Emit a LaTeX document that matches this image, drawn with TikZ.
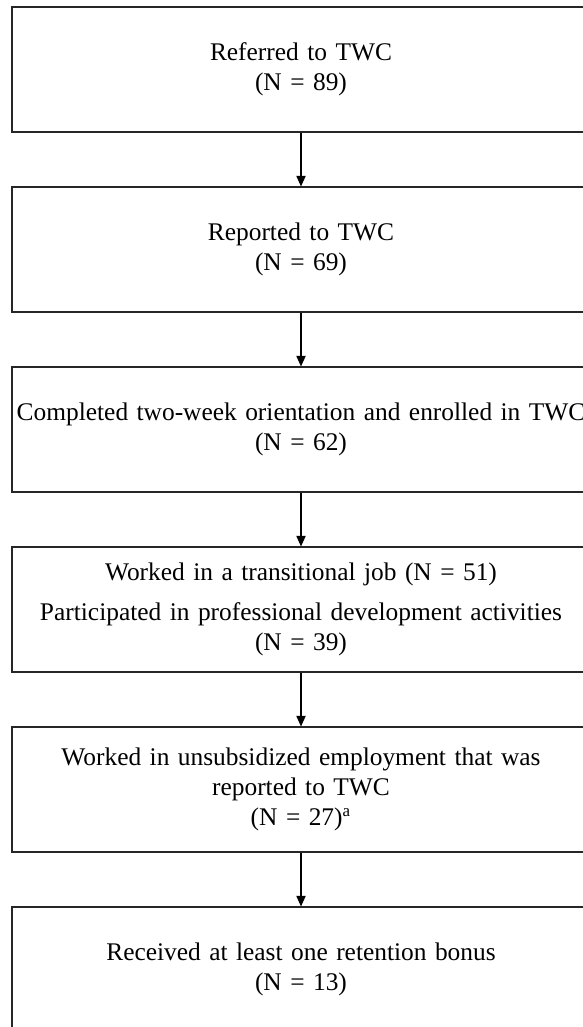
\documentclass[tikz,border=0pt]{standalone}
\usepackage{fontspec}
\setmainfont{Liberation Serif}
\usetikzlibrary{positioning,arrows.meta}

\tikzset{
  stage/.style={draw=black!85, line width=0.6pt, rectangle, align=center,
    minimum width=273pt, minimum height=59pt, text width=270pt,
    inner xsep=1pt, inner ysep=0.5pt,
    font=\fontsize{12}{14.2}\selectfont},
  flow/.style={line width=0.5pt, -{Triangle[length=5pt,width=4.4pt]}}
}

\begin{document}
\begin{tikzpicture}[x=0.4724pt, y=-0.4724pt]
    % page frame (px of the original figure)
    \useasboundingbox (0,0) rectangle (582,1027);

    % =========================================================
    % STAGES
    % =========================================================
    \node[stage] (referred) at (301,69.5) {Referred to TWC\\(N = 89)};
    \node[stage] (reported) at (301,249.5) {Reported to TWC\\(N = 69)};
    \node[stage] (enrolled) at (301,429.5)
        {Completed two-week orientation and enrolled in TWC\\(N = 62)};
    \node[stage] (working) at (301,609.5)
        {Worked in a transitional job (N = 51)\\[5pt]
         Participated in professional development activities\\(N = 39)};
    \node[stage] (unsubsidized) at (301,789.5)
        {Worked in unsubsidized employment that was\\reported to TWC\\(N = 27)\textsuperscript{a}};
    \node[stage] (bonus) at (301,969.5)
        {Received at least one retention bonus\\(N = 13)};

    % =========================================================
    % FLOW
    % =========================================================
    \draw[flow] (referred) -- (reported);
    \draw[flow] (reported) -- (enrolled);
    \draw[flow] (enrolled) -- (working);
    \draw[flow] (working) -- (unsubsidized);
    \draw[flow] (unsubsidized) -- (bonus);
\end{tikzpicture}
\end{document}
